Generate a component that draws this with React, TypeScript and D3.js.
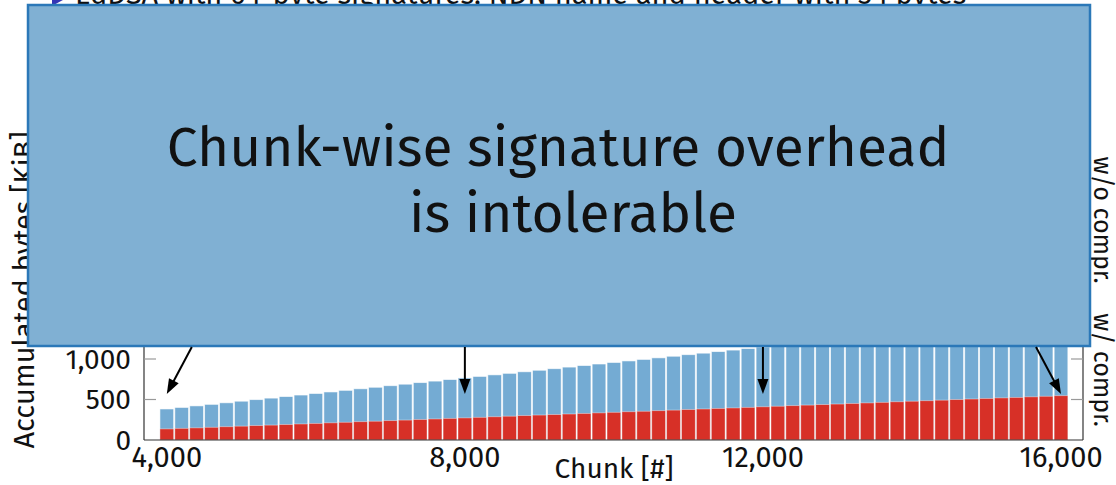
import React from 'react';
import * as d3 from 'd3';

// Chunk counts (x categories)
const chunks = [
  4000, 4200, 4400, 4600, 4800, 5000, 5200, 5400, 5600, 5800,
  6000, 6200, 6400, 6600, 6800, 7000, 7200, 7400, 7600, 7800,
  8000, 8200, 8400, 8600, 8800, 9000, 9200, 9400, 9600, 9800,
  10000, 10200, 10400, 10600, 10800, 11000, 11200, 11400, 11600, 11800,
  12000, 12200, 12400, 12600, 12800, 13000, 13200, 13400, 13600, 13800,
  14000, 14200, 14400, 14600, 14800, 15000, 15200, 15400, 15600, 15800,
  16000,
];

// Accumulated bytes [KiB] without compression (blue)
const withoutCompr = [
  383, 402, 421, 440, 459, 479, 498, 517, 536, 555,
  574, 593, 613, 632, 651, 670, 689, 708, 727, 746,
  766, 785, 804, 823, 842, 861, 880, 900, 919, 938,
  957, 976, 995, 1014, 1034, 1053, 1072, 1091, 1110, 1129,
  1148, 1168, 1187, 1206, 1225, 1244, 1263, 1282, 1302, 1321,
  1340, 1359, 1378, 1397, 1416, 1436, 1455, 1474, 1493, 1512,
  1531,
];

// Accumulated bytes [KiB] with compression (red)
const withCompr = [
  137, 144, 150, 157, 164, 171, 178, 184, 191, 198,
  205, 212, 219, 226, 232, 239, 246, 253, 260, 267,
  273, 280, 287, 294, 301, 308, 314, 321, 328, 335,
  342, 349, 355, 362, 369, 376, 383, 390, 396, 403,
  410, 417, 424, 431, 437, 444, 451, 458, 465, 472,
  479, 485, 492, 499, 506, 513, 520, 526, 533, 540,
  547,
];

const yTicks = [0, 500, 1000];
const xTicks = [4000, 8000, 12000, 16000];
const arrowChunks = [4000, 8000, 12000, 16000];

const headerText = 'EdDSA with 64-byte signatures, NDN name and header with 34 bytes';
const boxLines = ['Chunk-wise signature overhead', 'is intolerable'];
const yLabel = 'Accumulated bytes [KiB]';
const xLabel = 'Chunk [#]';
const rightLabels = ['w/o compr.', 'w/ compr.'];

const FONT = "'Fira Sans', 'Open Sans', 'Noto Sans', sans-serif";

export default function App() {
  const x = d3.scaleLinear().domain([4000, 16000]).range([166.8, 1061]);
  const y = d3.scaleLinear().domain([0, 1000]).range([440, 359]);
  const step = x(chunks[1]) - x(chunks[0]);
  const barW = step * 0.92;
  const fmt = d3.format(',');

  const axisLeft = 144;
  const axisRight = 1083;
  const base = y(0);

  const arrowTipY = 394;
  const boxBottom = 346;

  return (
    <svg
      width={1116}
      height={485}
      style={{ position: 'absolute', left: 0, top: 0, background: '#fff' }}
      fontFamily={FONT}
    >
      {/* header (mostly clipped by the window top, as in the slide) */}
      <path d="M52,-16 L52,6 L72,-5 Z" fill="#3535b5" />
      <text x={75} y={4} fontSize={29} fill="#111">{headerText}</text>

      {/* bars */}
      <g>
        {chunks.map((c, i) => (
          <rect
            key={'b' + c}
            x={x(c) - barW / 2}
            y={y(withoutCompr[i])}
            width={barW}
            height={base - y(withoutCompr[i])}
            fill="#74abd3"
            stroke="#ffffff"
            strokeOpacity={0.7}
            strokeWidth={0.8}
          />
        ))}
        {chunks.map((c, i) => (
          <rect
            key={'r' + c}
            x={x(c) - barW / 2}
            y={y(withCompr[i])}
            width={barW}
            height={base - y(withCompr[i])}
            fill="#d73027"
            stroke="#ffffff"
            strokeOpacity={0.5}
            strokeWidth={0.8}
          />
        ))}
      </g>

      {/* axes */}
      <line x1={axisLeft} x2={axisLeft} y1={base} y2={y(1800)} stroke="#333" strokeWidth={1.2} />
      <line x1={axisRight} x2={axisRight} y1={base} y2={y(1800)} stroke="#333" strokeWidth={1.2} />
      <line x1={axisLeft} x2={axisRight} y1={base} y2={base} stroke="#333" strokeWidth={1.2} />
      {yTicks.filter((t) => t > 0).map((t) => (
        <g key={'yt' + t}>
          <line x1={axisLeft} x2={axisLeft + 12} y1={y(t)} y2={y(t)} stroke="#999" strokeWidth={1.2} />
          <line x1={axisRight - 12} x2={axisRight} y1={y(t)} y2={y(t)} stroke="#999" strokeWidth={1.2} />
        </g>
      ))}
      {yTicks.map((t) => (
        <text key={'yl' + t} x={131} y={y(t) + 9.5} fontSize={28} textAnchor="end" fill="#111">
          {fmt(t)}
        </text>
      ))}
      {xTicks.map((t) => (
        <text key={'xl' + t} x={x(t)} y={467} fontSize={29} textAnchor="middle" fill="#111">
          {fmt(t)}
        </text>
      ))}
      <text x={614} y={478} fontSize={28} textAnchor="middle" fill="#111">{xLabel}</text>
      <text
        transform="translate(34,290) rotate(-90)"
        fontSize={29}
        textAnchor="middle"
        fill="#111"
      >
        {yLabel}
      </text>
      <text transform="translate(1094,220) rotate(90)" fontSize={25} textAnchor="middle" fill="#111">
        {rightLabels[0]}
      </text>
      <text transform="translate(1094,370) rotate(90)" fontSize={25} textAnchor="middle" fill="#111">
        {rightLabels[1]}
      </text>

      {/* overlay box */}
      <rect x={28} y={5} width={1062} height={341} fill="#80b0d3" stroke="#2b78b8" strokeWidth={2.5} />
      <text x={558} y={166} fontSize={55} textAnchor="middle" fill="#111">{boxLines[0]}</text>
      <text x={573} y={232} fontSize={55} textAnchor="middle" fill="#111">{boxLines[1]}</text>

      {/* arrows */}
      {arrowChunks.map((c, i) => {
        const dx = i === 0 ? 25 : i === arrowChunks.length - 1 ? -25 : 0;
        const tx = x(c);
        const ty = arrowTipY;
        const sx = tx + dx;
        const sy = boxBottom + 1;
        const ang = Math.atan2(ty - sy, tx - sx);
        const L = 15;
        const W = 5.5;
        const bx = tx - L * Math.cos(ang);
        const by = ty - L * Math.sin(ang);
        const px = -Math.sin(ang) * W;
        const py = Math.cos(ang) * W;
        return (
          <g key={'a' + c}>
            <line x1={sx} y1={sy} x2={bx + 2 * Math.cos(ang)} y2={by + 2 * Math.sin(ang)} stroke="#000" strokeWidth={2} />
            <path d={`M${tx},${ty} L${bx + px},${by + py} L${bx - px},${by - py} Z`} fill="#000" />
          </g>
        );
      })}
    </svg>
  );
}
